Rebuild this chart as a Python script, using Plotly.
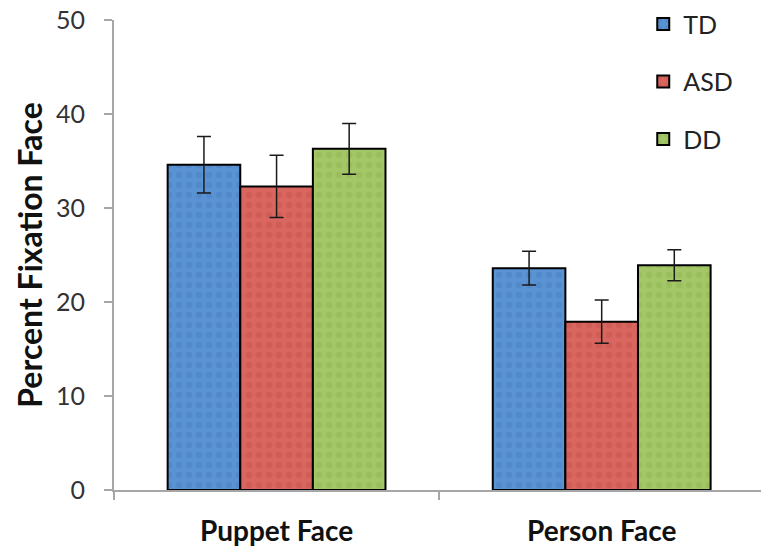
import plotly.graph_objects as go

categories = ["Puppet Face", "Person Face"]
groups = ["TD", "ASD", "DD"]
td_values = [34.6, 23.6]
asd_values = [32.3, 17.9]
dd_values = [36.3, 23.9]
td_err = [3.0, 1.8]
asd_err = [3.3, 2.3]
dd_err = [2.7, 1.65]
y_ticks = [0, 10, 20, 30, 40, 50]

colors = {"TD": "#5A93D4", "ASD": "#D9665F", "DD": "#A3C766"}
pattern_fg = {"TD": "#4A80C0", "ASD": "#C85550", "DD": "#92B656"}

series = [("TD", td_values, td_err), ("ASD", asd_values, asd_err), ("DD", dd_values, dd_err)]

fig = go.Figure()
for name, vals, errs in series:
    fig.add_trace(go.Bar(
        name=name, x=categories, y=vals, legendgroup=name,
        marker=dict(color=colors[name], line=dict(color="#000000", width=2),
                    pattern=dict(shape=".", fgcolor=pattern_fg[name], size=10, solidity=0.35)),
        error_y=dict(type="data", array=errs, visible=True, color="#1a1a1a", thickness=1.5, width=7),
    ))

font_family = "Lato, 'Open Sans', sans-serif"
fig.update_layout(
    width=761, height=550,
    margin=dict(l=114, r=0, t=20, b=60, autoexpand=False),
    plot_bgcolor="white", paper_bgcolor="white",
    barmode="group", bargap=0.33, bargroupgap=0,
    font=dict(family=font_family, color="#222222"),
    showlegend=True,
    legend=dict(x=0.818, y=1.04, xanchor="left", yanchor="top", font=dict(size=25, color="#222222"),
                tracegroupgap=22, bgcolor="rgba(0,0,0,0)"),
    xaxis=dict(showline=True, linecolor="#A6A6A6", linewidth=2, ticks="outside", tickson="boundaries",
               ticklen=8, tickcolor="#A6A6A6", tickwidth=2, range=[-0.5, 1.49], automargin=False,
               tickfont=dict(size=28, family=font_family, color="#111111"),
               ticklabelstandoff=15, showgrid=False),
    yaxis=dict(range=[0, 50], tickvals=y_ticks, showline=True, linecolor="#A6A6A6", linewidth=2,
               ticks="outside", ticklen=8, tickcolor="#A6A6A6", tickwidth=2, showgrid=False,
               tickfont=dict(size=25, family=font_family, color="#333333"), ticklabelstandoff=14,
               ticklabeloverflow="allow",
               zeroline=False, automargin=False,
               title=dict(text="<b>Percent Fixation Face</b>", font=dict(size=32, family=font_family, color="#111111"),
                          standoff=4)),
)
fig.update_xaxes(tickvals=categories, ticktext=["<b>Puppet Face</b>", "<b>Person Face</b>"])
fig.write_html("out.html", config={"displayModeBar": False},
               post_script="document.body.style.margin='0px';")
